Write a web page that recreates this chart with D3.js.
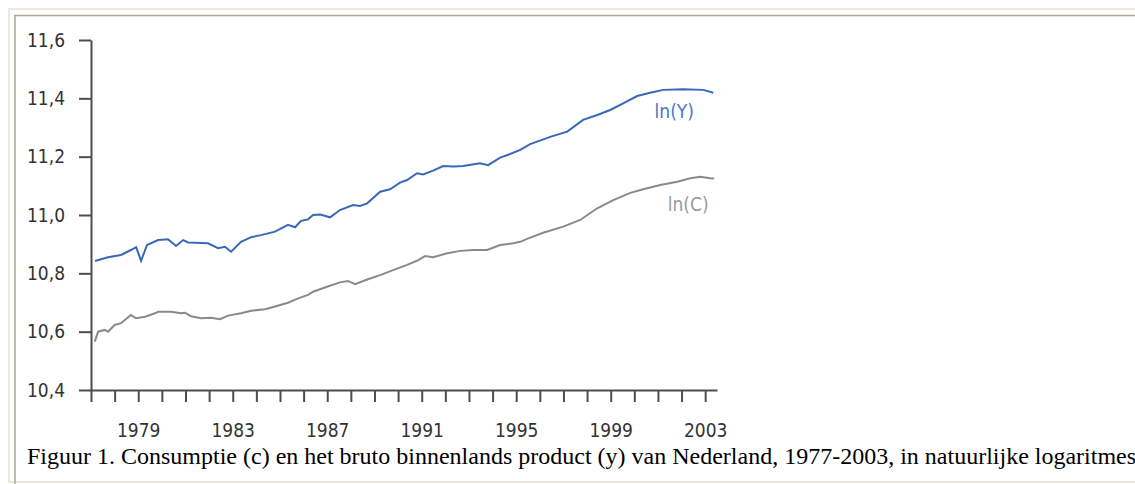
<!DOCTYPE html>
<html>
<head>
<meta charset="utf-8">
<script src="https://cdn.jsdelivr.net/npm/d3@7"></script>
<style>
  html, body { margin: 0; padding: 0; background: #fff; }
  svg { display: block; }
</style>
</head>
<body>
<div id="chart"></div>
<script>
// ln(Y): bruto binnenlands product
const yearsY = [1977.17, 1977.72, 1978.27, 1978.69, 1978.91, 1979.12, 1979.37, 1979.84, 1980.26, 1980.6,
  1980.9, 1981.11, 1981.95, 1982.38, 1982.67, 1982.93, 1983.35, 1983.78, 1984.2, 1984.79,
  1985.34, 1985.64, 1985.89, 1986.19, 1986.4, 1986.7, 1987.12, 1987.54, 1988.09, 1988.39,
  1988.69, 1989.24, 1989.66, 1990.08, 1990.38, 1990.8, 1991.06, 1991.48, 1991.91, 1992.33,
  1992.75, 1993.47, 1993.81, 1994.32, 1994.74, 1995.17, 1995.59, 1996.44, 1997.16, 1997.83,
  1998.43, 1998.98, 1999.53, 2000.12, 2000.67, 2001.22, 2002.07, 2002.92, 2003.34];
const lnY = [10.842, 10.855, 10.863, 10.88, 10.89, 10.843, 10.897, 10.914, 10.917, 10.894,
  10.914, 10.906, 10.903, 10.886, 10.891, 10.874, 10.908, 10.924, 10.931, 10.943,
  10.966, 10.958, 10.98, 10.985, 11.0, 11.002, 10.992, 11.017, 11.034, 11.031,
  11.04, 11.08, 11.088, 11.111, 11.12, 11.143, 11.139, 11.152, 11.168, 11.166,
  11.168, 11.177, 11.171, 11.197, 11.209, 11.223, 11.243, 11.268, 11.286, 11.326,
  11.343, 11.36, 11.383, 11.408, 11.419, 11.429, 11.431, 11.429, 11.419];

// ln(C): consumptie
const yearsC = [1977.16, 1977.3, 1977.58, 1977.72, 1978.0, 1978.27, 1978.69, 1978.91, 1979.29, 1979.71,
  1979.84, 1980.39, 1980.81, 1980.98, 1981.23, 1981.66, 1982.08, 1982.46, 1982.8, 1983.35,
  1983.78, 1984.37, 1984.79, 1985.34, 1985.77, 1986.19, 1986.4, 1986.99, 1987.54, 1987.88,
  1988.18, 1988.69, 1989.24, 1989.79, 1990.38, 1990.8, 1991.14, 1991.48, 1992.08, 1992.63,
  1993.18, 1993.77, 1994.32, 1994.87, 1995.17, 1995.46, 1996.14, 1996.99, 1997.71, 1998.43,
  1999.11, 1999.83, 2000.38, 2001.1, 2001.82, 2002.37, 2002.79, 2003.22, 2003.38];
const lnC = [10.566, 10.6, 10.606, 10.6, 10.623, 10.629, 10.657, 10.646, 10.651, 10.663,
  10.668, 10.668, 10.663, 10.665, 10.653, 10.646, 10.648, 10.643, 10.655, 10.663,
  10.672, 10.677, 10.686, 10.699, 10.714, 10.726, 10.737, 10.754, 10.769, 10.774,
  10.763, 10.779, 10.794, 10.811, 10.829, 10.843, 10.859, 10.855, 10.869, 10.877,
  10.88, 10.88, 10.897, 10.903, 10.908, 10.918, 10.939, 10.96, 10.983, 11.023,
  11.051, 11.076, 11.088, 11.103, 11.114, 11.126, 11.131, 11.126, 11.125];

const yTicks = [10.4, 10.6, 10.8, 11.0, 11.2, 11.4, 11.6];
const xTicks = d3.range(1977, 2004);
const xLabelYears = [1979, 1983, 1987, 1991, 1995, 1999, 2003];
const caption = "Figuur 1. Consumptie (c) en het bruto binnenlands product (y) van Nederland, 1977-2003, in natuurlijke logaritmes";

const width = 1135;
const height = 484;
const tickFont = "'DejaVu Sans Condensed', 'DejaVu Sans', sans-serif";

const svg = d3.select("#chart").append("svg").attr("width", width).attr("height", height);

// Inset frame
svg.append("rect").attr("x", 9).attr("y", 9).attr("width", width).attr("height", 473)
  .attr("fill", "none").attr("stroke", "#ece9d8").attr("stroke-width", 2);
svg.append("path").attr("d", `M15,${height}V15.5H${width}`)
  .attr("fill", "none").attr("stroke", "#a8a8a0").attr("stroke-width", 1.5);

const x = d3.scaleLinear().domain([1977, 2003.5]).range([91, 717]);
const y = d3.scaleLinear().domain([10.4, 11.6]).range([390, 40]);

const fmt = d3.format(".1f");

// Y axis
const yAxis = svg.append("g")
  .attr("transform", "translate(91,0)")
  .call(d3.axisLeft(y).tickValues(yTicks).tickSize(12).tickSizeOuter(0).tickPadding(14)
    .tickFormat((d) => fmt(d).replace(".", ",")));

// X axis
const xAxis = svg.append("g")
  .attr("transform", "translate(0,390)")
  .call(d3.axisBottom(x).tickValues(xTicks).tickSize(12).tickSizeOuter(0).tickPadding(22)
    .tickFormat((d) => (xLabelYears.includes(d) ? String(d) : "")));

[yAxis, xAxis].forEach((g) => {
  g.selectAll("path, line").attr("stroke", "#4d4d4d").attr("stroke-width", 2);
  g.selectAll("text").attr("fill", "#333").attr("font-size", "19px").attr("font-family", tickFont);
});

// Lines
const line = d3.line().x((d) => x(d[0])).y((d) => y(d[1]));

svg.append("path")
  .datum(d3.zip(yearsC, lnC))
  .attr("d", line)
  .attr("fill", "none")
  .attr("stroke", "#8a8a8a")
  .attr("stroke-width", 2);

svg.append("path")
  .datum(d3.zip(yearsY, lnY))
  .attr("d", line)
  .attr("fill", "none")
  .attr("stroke", "#3a68b8")
  .attr("stroke-width", 2);

// Series labels
svg.append("text").attr("x", x(2001.69)).attr("y", y(11.333)).attr("text-anchor", "middle")
  .attr("font-family", tickFont).attr("font-size", "19px").attr("fill", "#4a76c4").text("ln(Y)");
svg.append("text").attr("x", x(2002.28)).attr("y", y(11.014)).attr("text-anchor", "middle")
  .attr("font-family", tickFont).attr("font-size", "19px").attr("fill", "#999").text("ln(C)");

// Caption
svg.append("text")
  .attr("x", 27)
  .attr("y", 464)
  .attr("font-family", "'Liberation Serif', 'Times New Roman', serif")
  .attr("font-size", "24px")
  .attr("fill", "#000")
  .text(caption);
</script>
</body>
</html>
